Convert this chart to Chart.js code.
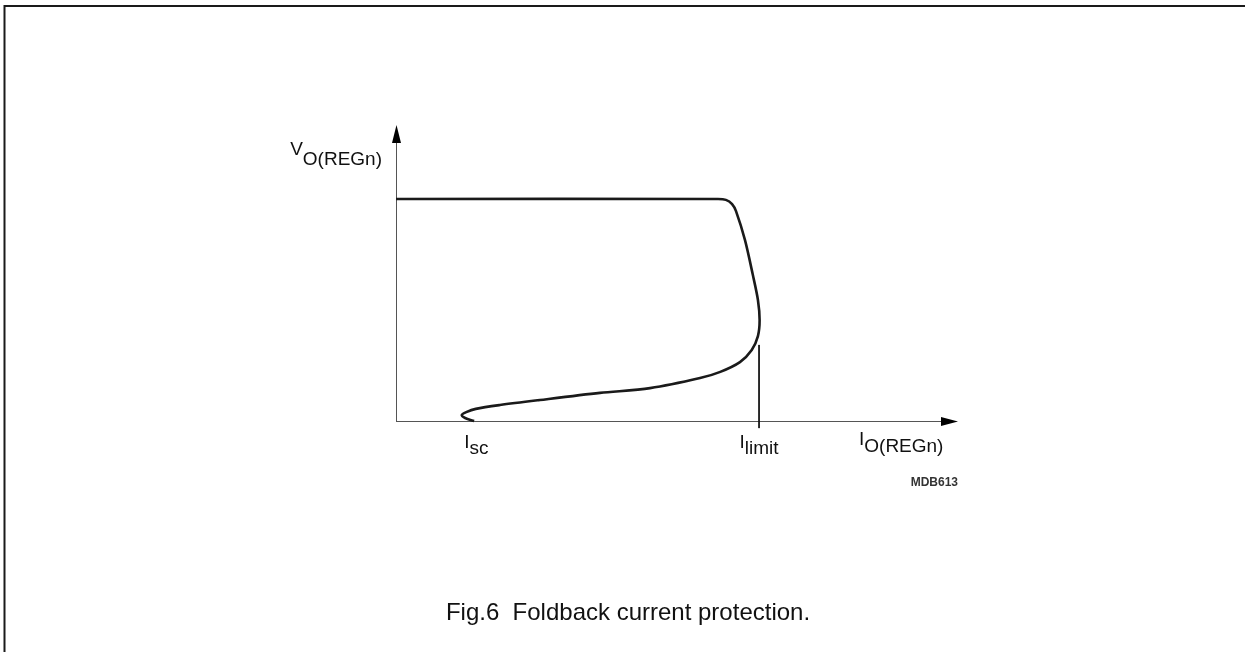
<!DOCTYPE html>
<html>
<head>
<meta charset="utf-8">
<title>Fig.6 Foldback current protection</title>
<script src="https://cdn.jsdelivr.net/npm/chart.js@4/dist/chart.umd.min.js"></script>
<style>
     html, body { margin: 0; padding: 0; background: #fff; overflow: hidden; }
     canvas { display: block; }
</style>
</head>
<body>
<canvas id="myChart" width="1245" height="652"></canvas>
<script>
// foldback curve (arbitrary units, 0..100 on both axes)
let curveX = [0, 57.3, 58.7, 59.8, 60.5, 62.1, 63.5, 64.4, 64.7, 64.4, 63.3, 61.2, 57.7, 54.1, 45.2, 36.3, 25.6, 18.5, 14.2, 12.5, 11.7, 12.3, 13.9];
let curveY = [75.0, 75.0, 74.7, 73.3, 70.9, 61.1, 49.3, 40.9, 34.1, 28.7, 24.0, 19.9, 16.6, 14.5, 11.1, 9.5, 7.1, 5.4, 4.1, 3.0, 2.0, 1.0, 0];

// I_limit marker line
let limitX = [64.6, 64.6];
let limitY = [25.7, -2.4];

// tick labels under the x axis
let tickValues = [14.3, 64.6];
let tickMain = ['I', 'I'];
let tickSub = ['sc', 'limit'];

let xTitle = ['I', 'O(REGn)'];
let yTitle = ['V', 'O(REGn)'];
let caption = 'Fig.6  Foldback current protection.';
let figCode = 'MDB613';

function toPoints(xs, ys) {
     let pts = [];
     for (var i = 0; i < xs.length; i++) {
          pts.push({ x: xs[i], y: ys[i] });
     }
     return pts;
}

const FONT = '"Liberation Sans", Arial, sans-serif';

// text with a subscript that sits a few px lower, same size
function subText(ctx, x, y, main, sub, drop, align) {
     ctx.font = '19px ' + FONT;
     let w1 = ctx.measureText(main).width;
     let w2 = ctx.measureText(sub).width;
     let left = x;
     if (align === 'center') left = x - (w1 + w2) / 2;
     if (align === 'right') left = x - (w1 + w2);
     ctx.textAlign = 'left';
     ctx.fillText(main, left, y);
     ctx.fillText(sub, left + w1, y + drop);
}

const decor = {
     id: 'decor',
     beforeDatasetsDraw(chart) {
          const ctx = chart.ctx;
          const xs = chart.scales.x;
          const ys = chart.scales.y;
          let x0 = xs.getPixelForValue(0);
          let y0 = ys.getPixelForValue(0);
          let xEnd = xs.getPixelForValue(100);
          let yEnd = ys.getPixelForValue(100);
          ctx.save();
          // page frame (only top and left are in view)
          ctx.strokeStyle = '#1a1a1a';
          ctx.lineWidth = 2;
          ctx.beginPath();
          ctx.moveTo(4.5, 660);
          ctx.lineTo(4.5, 6);
          ctx.lineTo(1250, 6);
          ctx.stroke();
          // axes
          ctx.strokeStyle = '#555';
          ctx.lineWidth = 1;
          ctx.beginPath();
          ctx.moveTo(x0 + 0.5, y0);
          ctx.lineTo(x0 + 0.5, yEnd + 12);
          ctx.moveTo(x0, y0 + 0.5);
          ctx.lineTo(xEnd - 12, y0 + 0.5);
          ctx.stroke();
          // arrow heads
          ctx.fillStyle = '#000';
          ctx.beginPath();
          ctx.moveTo(x0 + 0.5, yEnd);
          ctx.lineTo(x0 + 5, yEnd + 18);
          ctx.lineTo(x0 - 4, yEnd + 18);
          ctx.closePath();
          ctx.fill();
          ctx.beginPath();
          ctx.moveTo(xEnd, y0 + 0.5);
          ctx.lineTo(xEnd - 17, y0 + 5);
          ctx.lineTo(xEnd - 17, y0 - 4);
          ctx.closePath();
          ctx.fill();
          ctx.restore();
     },
     afterDatasetsDraw(chart) {
          const ctx = chart.ctx;
          const xs = chart.scales.x;
          const ys = chart.scales.y;
          let x0 = xs.getPixelForValue(0);
          let y0 = ys.getPixelForValue(0);
          let xEnd = xs.getPixelForValue(100);
          let yEnd = ys.getPixelForValue(100);
          ctx.save();
          ctx.fillStyle = '#111';
          ctx.textBaseline = 'alphabetic';
          for (var i = 0; i < tickValues.length; i++) {
               subText(ctx, xs.getPixelForValue(tickValues[i]), y0 + 27, tickMain[i], tickSub[i], 6, 'center');
          }
          subText(ctx, xEnd - 99, y0 + 24, xTitle[0], xTitle[1], 7, 'left');
          subText(ctx, x0 - 14, yEnd + 30, yTitle[0], yTitle[1], 10, 'right');
          // figure code
          ctx.font = 'bold 12px ' + FONT;
          ctx.textAlign = 'right';
          ctx.fillStyle = '#333';
          ctx.fillText(figCode, xEnd, y0 + 65);
          // caption
          ctx.font = '24px ' + FONT;
          ctx.textAlign = 'center';
          ctx.fillStyle = '#111';
          ctx.fillText(caption, 628, 620);
          ctx.restore();
     }
};

new Chart("myChart", {
     type: "scatter",
     data: {
          datasets: [{
               data: toPoints(curveX, curveY),
               showLine: true,
               tension: 0.3,
               borderColor: "#1a1a1a",
               borderWidth: 2.6,
               pointRadius: 0,
               fill: false,
               clip: false
          }, {
               data: toPoints(limitX, limitY),
               showLine: true,
               tension: 0,
               borderColor: "#111",
               borderWidth: 1,
               pointRadius: 0,
               fill: false,
               clip: false
          }]
     },
     options: {
          responsive: false,
          devicePixelRatio: 1,
          animation: false,
          layout: { padding: { left: 396, right: 287, top: 125, bottom: 231 } },
          scales: {
               x: { type: 'linear', min: 0, max: 100, display: false },
               y: { type: 'linear', min: 0, max: 100, display: false }
          },
          plugins: {
               legend: { display: false },
               tooltip: { enabled: false }
          }
     },
     plugins: [decor]
});
</script>
</body>
</html>
